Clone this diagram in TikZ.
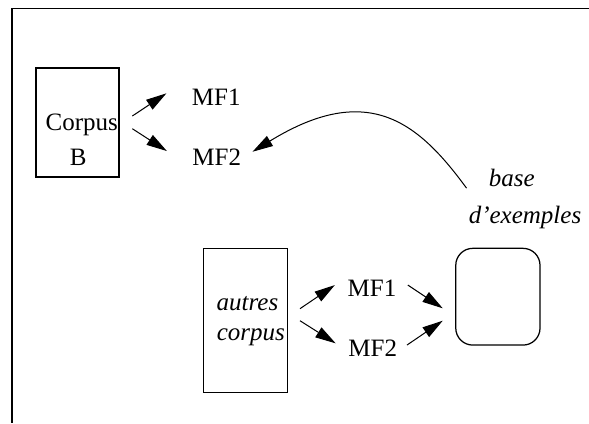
\documentclass[tikz,border=0pt]{standalone}
\usepackage{fontspec}
\setmainfont{Liberation Serif}
\usetikzlibrary{arrows.meta}

\begin{document}
\begin{tikzpicture}[
      x=0.4pt, y=-0.4pt,
      block/.style={draw, rectangle, line width=0.5pt},
      txt/.style={inner sep=0pt, anchor=base},
      >={Triangle[length=8.2pt, width=4.6pt]},
      line width=0.4pt
    ]

    % Frame
    \useasboundingbox (0,0) rectangle (589,423);
    \draw[line width=0.7pt] (589,8.5) -- (11.7,8.5) -- (11.7,423);

    % Nodes
    \node[block, minimum width=33.2pt, minimum height=43.6pt] (corpusB) at (77.5,122.5) {};
    \node[txt] (corpusTxt) at (81.7,130) {Corpus};
    \node[txt] (bTxt) at (78.3,165) {B};
    \node[txt] (mfA) at (216.2,105) {MF1};
    \node[txt] (mfB) at (216.7,165) {MF2};

    \node[block, minimum width=33.8pt, minimum height=57.8pt] (autres) at (245.5,320.5) {};
    \node[txt] (autresTxt) at (247.5,310) {\itshape autres};
    \node[txt] (corpusTxt2) at (250.8,340) {\itshape corpus};
    \node[txt] (mfC) at (372,296.7) {MF1};
    \node[txt] (mfD) at (372.8,356.7) {MF2};

    \node[block, rounded corners=6.8pt, minimum width=33.7pt, minimum height=38.7pt] (exemples) at (497.9,296.7) {};
    \node[txt] (baseTxt) at (511.7,186.7) {\itshape base};
    \node[txt] (dexTxt) at (525,223.3) {\itshape d'exemples};

    % Arrows
    \draw[->] ([shift={(12.7,-6.5)}]corpusB.east) -- ([shift={(-25,-3.4)}]mfA.west);
    \draw[->] ([shift={(12.7,6.2)}]corpusB.east) -- ([shift={(-25,-5.7)}]mfB.west);
    \draw[->] ([shift={(11.6,-11.8)}]autres.east) -- ([shift={(-12.3,-3.4)}]mfC.west);
    \draw[->] ([shift={(11.6,0.2)}]autres.east) -- ([shift={(-12.3,-5.1)}]mfD.west);
    \draw[->] ([shift={(11,-3.4)}]mfC.east) -- ([shift={(-12.4,11.6)}]exemples.west);
    \draw[->] ([shift={(9.4,-3.4)}]mfD.east) -- ([shift={(-12.4,24)}]exemples.west);

    % Back to MF2
    \draw[->] ([shift={(-21.7,10)}]baseTxt.west) .. controls +(-47,-64) and +(117,-72) .. ([shift={(11,-5)}]mfB.east);

  \end{tikzpicture}
\end{document}
